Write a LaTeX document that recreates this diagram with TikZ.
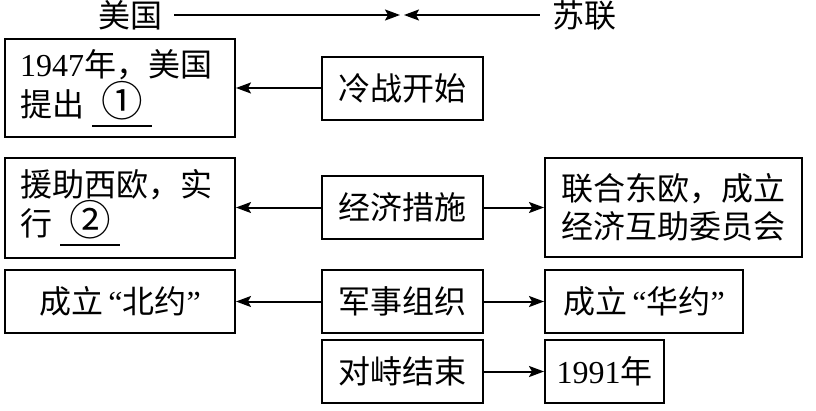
\documentclass[tikz,border=0pt]{standalone}
\usepackage{fontspec}
\usepackage{graphicx}
\setmainfont{Noto Sans CJK SC}
\newfontfamily\latin{Liberation Serif}
\usetikzlibrary{arrows.meta}
% blank to fill in, with its circled number
\newcommand\fillblank[1]{\vtop{\hbox to 60pt{\hss\scalebox{1.3}{#1}\hss}\kern5pt\hrule height 1.8pt}}

\begin{document}
\begin{tikzpicture}[
    x=1pt, y=-1pt,
    panel/.style={draw, line width=2pt, minimum height=63pt, inner sep=0pt,
      align=center, font=\fontsize{32pt}{38pt}\selectfont},
    note/.style={panel, align=left, text width=200pt, minimum width=230pt},
    label/.style={inner sep=12pt, font=\fontsize{32pt}{38pt}\selectfont},
    signal/.style={line width=2pt, ->},
    >={Stealth[length=15pt,width=11pt,inset=3pt]}
  ]
  \useasboundingbox (0,0) rectangle (816,410);
  % heading
  \node[label] (usa) at (130,15) {美国};
  \node[label] (ussr) at (584,15) {苏联};
  \coordinate (meetL) at (400,15);
  \coordinate (meetR) at (404,15);
  \draw[signal] (usa) -- (meetL);
  \draw[signal] (ussr) -- (meetR);
  % rows
  \node[note, minimum height=98pt] (plan) at (120,88)
    {{\latin 1947}年，美国\\提出\hspace{8pt}\fillblank{①}};
  \node[panel, minimum width=161pt] (cold) at (402.5,88) {冷战开始};
  \node[note, minimum height=100pt] (aid) at (120,207.5)
    {援助西欧，实\\行\hspace{8pt}\fillblank{②}};
  \node[panel, minimum width=161pt] (econ) at (402.5,207.5) {经济措施};
  \node[panel, minimum width=257pt, minimum height=99pt] (comecon) at (673.5,207.5)
    {联合东欧，成立\\经济互助委员会};
  \node[panel, minimum width=230pt] (nato) at (120,301.5)
    {成立\hspace{5pt}{\latin “}北约{\latin ”}};
  \node[panel, minimum width=161pt] (mil) at (402.5,301.5) {军事组织};
  \node[panel, minimum width=198pt] (warsaw) at (644,301.5)
    {成立\hspace{5pt}{\latin “}华约{\latin ”}};
  \node[panel, minimum width=161pt] (finish) at (402.5,371.5) {对峙结束};
  \node[panel, minimum width=119pt] (year) at (604.5,371.5) {{\latin 1991}年};
  % arrows
  \draw[signal] (cold) -- (plan);
  \draw[signal] (econ) -- (aid);
  \draw[signal] (econ) -- (comecon);
  \draw[signal] (mil) -- (nato);
  \draw[signal] (mil) -- (warsaw);
  \draw[signal] (finish) -- (year);
\end{tikzpicture}
\end{document}
